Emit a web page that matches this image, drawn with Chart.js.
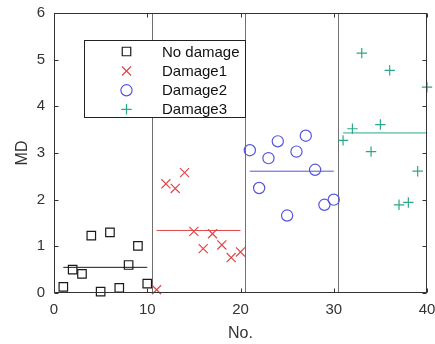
<!DOCTYPE html>
<html><head><meta charset="utf-8">
<script src="https://cdn.jsdelivr.net/npm/chart.js@4"></script>
<style>html,body{margin:0;padding:0;background:#fff}canvas{display:block}</style>
</head><body>
<canvas id="c" width="435" height="344"></canvas>
<script>
const noDamageX = [1,2,3,4,5,6,7,8,9,10];
const noDamageY = [0.13,0.50,0.41,1.23,0.03,1.30,0.11,0.60,1.01,0.20];
const damage1X = [11,12,13,14,15,16,17,18,19,20];
const damage1Y = [0.07,2.34,2.24,2.58,1.32,0.95,1.27,1.03,0.76,0.88];
const damage2X = [21,22,23,24,25,26,27,28,29,30];
const damage2Y = [3.06,2.25,2.89,3.25,1.66,3.03,3.37,2.64,1.89,2.00];
const damage3X = [31,32,33,34,35,36,37,38,39,40];
const damage3Y = [3.27,3.52,5.14,3.03,3.61,4.77,1.89,1.94,2.61,4.41];
const meanValues = [0.55,1.34,2.61,3.43];
const separators = [10.5,20.5,30.5];
const seriesLabels = ['No damage','Damage1','Damage2','Damage3'];
const xTicks = [0,10,20,30,40];
const yTicks = [0,1,2,3,4,5,6];

const colors = ['#1a1a1a','#e0474c','#5555dd','#2aa889'];
const styles = ['rect','crossRot','circle','cross'];
const radii = [6,6.4,5.6,5.2];
const groupsX = [noDamageX,damage1X,damage2X,damage3X];
const groupsY = [noDamageY,damage1Y,damage2Y,damage3Y];
const FONT = '"Liberation Sans", Arial, sans-serif';

const datasets = [];
groupsX.forEach((gx,i)=>{
  datasets.push({
    type:'scatter', label:seriesLabels[i],
    data: gx.map((v,k)=>({x:v,y:groupsY[i][k]})),
    pointStyle: styles[i], pointRadius: radii[i], pointBorderColor: colors[i],
    pointBackgroundColor:'rgba(0,0,0,0)', pointBorderWidth:1.2, clip:false, order:1
  });
  datasets.push({
    type:'line', label:'mean'+i,
    data:[{x:gx[0],y:meanValues[i]},{x:gx[gx.length-1],y:meanValues[i]}],
    borderColor: colors[i], borderWidth:1, pointRadius:0, showLine:true, fill:false, order:2
  });
});

function drawMarker(ctx, style, x, y, r){
  ctx.beginPath();
  if(style==='rect'){const s=r*Math.SQRT1_2; ctx.rect(x-s,y-s,2*s,2*s);}
  else if(style==='circle'){ctx.arc(x,y,r,0,Math.PI*2);}
  else if(style==='cross'){ctx.moveTo(x,y-r);ctx.lineTo(x,y+r);ctx.moveTo(x-r,y);ctx.lineTo(x+r,y);}
  else if(style==='crossRot'){const o=r*Math.SQRT1_2; ctx.moveTo(x-o,y-o);ctx.lineTo(x+o,y+o);ctx.moveTo(x+o,y-o);ctx.lineTo(x-o,y+o);}
  ctx.stroke();
}

const framePlugin = {
  id:'frame',
  beforeDatasetsDraw(chart){
    const {ctx, chartArea:a, scales:{x}} = chart;
    ctx.save(); ctx.strokeStyle='#707070'; ctx.lineWidth=1;
    separators.forEach(v=>{
      const px=Math.round(x.getPixelForValue(v))+0.5;
      ctx.beginPath(); ctx.moveTo(px,a.top); ctx.lineTo(px,a.bottom); ctx.stroke();
    });
    ctx.restore();
  },
  afterDatasetsDraw(chart){
    const {ctx, chartArea:a, scales:{x,y}} = chart;
    ctx.save();
    ctx.strokeStyle='#333'; ctx.lineWidth=1;
    const L=Math.round(a.left)+0.5, R=Math.round(a.right)-0.5, T=Math.round(a.top)+0.5, B=Math.round(a.bottom)-0.5;
    ctx.strokeRect(L,T,R-L,B-T);
    const tl=4;
    ctx.beginPath();
    xTicks.forEach(v=>{const px=Math.round(x.getPixelForValue(v))+0.5; ctx.moveTo(px,B); ctx.lineTo(px,B-tl); ctx.moveTo(px,T); ctx.lineTo(px,T+tl);});
    yTicks.forEach(v=>{const py=Math.round(y.getPixelForValue(v))+0.5; ctx.moveTo(L,py); ctx.lineTo(L+tl,py); ctx.moveTo(R,py); ctx.lineTo(R-tl,py);});
    ctx.stroke();
    // legend
    const bx=84.5, by=40.5, bw=161, bh=77;
    ctx.fillStyle='#fff'; ctx.fillRect(bx,by,bw,bh);
    ctx.strokeStyle='#222'; ctx.strokeRect(bx,by,bw,bh);
    const rows=[51.5,71,90.3,109.3];
    ctx.font='15px '+FONT; ctx.textBaseline='middle'; ctx.textAlign='left';
    seriesLabels.forEach((lab,i)=>{
      ctx.strokeStyle=colors[i]; ctx.lineWidth=1.2;
      drawMarker(ctx, styles[i], 126.5, rows[i], radii[i]);
      ctx.fillStyle='#111'; ctx.fillText(lab, 162, rows[i]+1);
    });
    ctx.restore();
  }
};

new Chart(document.getElementById('c'), {
  type:'scatter',
  data:{datasets},
  options:{
    responsive:false, animation:false, devicePixelRatio:1,
    layout:{padding:{top:13,right:8,left:0,bottom:0}},
    plugins:{legend:{display:false}, tooltip:{enabled:false}},
    scales:{
      x:{type:'linear',min:0,max:40,
        afterBuildTicks(s){s.ticks=xTicks.map(v=>({value:v}));},
        ticks:{color:'#333',font:{size:15,family:FONT},padding:8},
        grid:{display:false,drawTicks:false}, border:{display:false},
        title:{display:true,text:'No.',color:'#333',font:{size:16,family:FONT},padding:{top:0,bottom:1}},
        afterFit(s){s.height=51; s.paddingLeft=0; s.paddingRight=0;}
      },
      y:{type:'linear',min:0,max:6,
        afterBuildTicks(s){s.ticks=yTicks.map(v=>({value:v}));},
        ticks:{color:'#333',font:{size:15,family:FONT},padding:9},
        grid:{display:false,drawTicks:false}, border:{display:false},
        title:{display:true,text:'MD',color:'#333',font:{size:16,family:FONT},padding:{top:13,bottom:0}},
        afterFit(s){s.width=54; s.paddingTop=0; s.paddingBottom=0;}
      }
    }
  },
  plugins:[framePlugin]
});
</script>
</body></html>
